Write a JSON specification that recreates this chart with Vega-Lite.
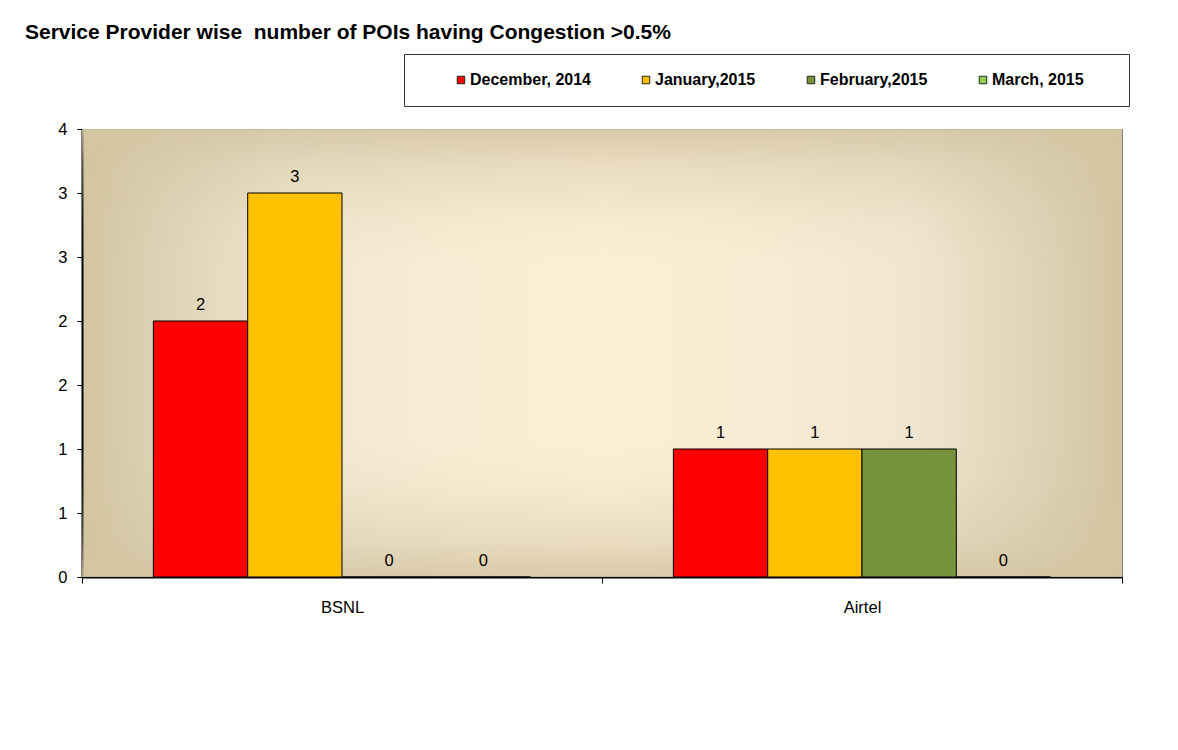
{
  "$schema": "https://vega.github.io/schema/vega-lite/v6.json",
  "width": 1040,
  "height": 448,
  "autosize": {"type": "none"},
  "padding": {"left": 82, "top": 129, "right": 56, "bottom": 173},
  "background": "white",
  "title": {
    "text": "Service Provider wise \u00a0number of POIs having Congestion >0.5%",
    "anchor": "start",
    "frame": "group",
    "orient": "top",
    "dx": -57,
    "offset": 11,
    "font": "Liberation Sans",
    "fontSize": 21,
    "fontWeight": "bold",
    "color": "black"
  },
  "data": {
    "values": [
      {"provider": "BSNL", "month": "December, 2014", "value": 2},
      {"provider": "BSNL", "month": "January,2015", "value": 3},
      {"provider": "BSNL", "month": "February,2015", "value": 0},
      {"provider": "BSNL", "month": "March, 2015", "value": 0},
      {"provider": "Airtel", "month": "December, 2014", "value": 1},
      {"provider": "Airtel", "month": "January,2015", "value": 1},
      {"provider": "Airtel", "month": "February,2015", "value": 1},
      {"provider": "Airtel", "month": "March, 2015", "value": 0}
    ]
  },
  "layer": [
    {
      "data": {"values": [{}]},
      "mark": {
        "type": "rect",
        "fill": {
          "gradient": "linear",
          "x1": 0, "y1": 0, "x2": 0, "y2": 1,
          "stops": [
            {"offset": 0, "color": "rgba(211,197,161,0.85)"},
            {"offset": 0.08, "color": "rgba(211,197,161,0.45)"},
            {"offset": 0.2, "color": "rgba(211,197,161,0.12)"},
            {"offset": 0.3, "color": "rgba(211,197,161,0)"},
            {"offset": 0.7, "color": "rgba(211,197,161,0)"},
            {"offset": 0.8, "color": "rgba(211,197,161,0.12)"},
            {"offset": 0.92, "color": "rgba(211,197,161,0.45)"},
            {"offset": 1, "color": "rgba(211,197,161,0.85)"}
          ]
        }
      },
      "encoding": {}
    },
    {
      "mark": {"type": "bar", "stroke": "black", "strokeWidth": 1},
      "encoding": {
        "x": {
          "field": "provider",
          "type": "nominal",
          "sort": ["BSNL", "Airtel"],
          "title": null,
          "scale": {"paddingInner": 0, "paddingOuter": 0},
          "axis": {
            "tickBand": "extent",
            "labelAngle": 0,
            "domainColor": "black",
            "domainWidth": 2,
            "tickColor": "black",
            "tickWidth": 1,
            "tickSize": 6,
            "labelPadding": 16,
            "labelFont": "Liberation Sans",
            "labelFontSize": 16.5,
            "labelColor": "black",
            "grid": false
          }
        },
        "xOffset": {
          "field": "month",
          "type": "nominal",
          "sort": ["December, 2014", "January,2015", "February,2015", "March, 2015"],
          "scale": {"paddingInner": 0, "paddingOuter": 0.757}
        },
        "y": {
          "field": "value",
          "type": "quantitative",
          "title": null,
          "scale": {"domain": [0, 3.5], "nice": false},
          "axis": {
            "values": [0, 0.5, 1, 1.5, 2, 2.5, 3, 3.5],
            "labelExpr": "'' + round(datum.value)",
            "labelOverlap": false,
            "grid": false,
            "domainColor": "black",
            "domainWidth": 2,
            "tickColor": "black",
            "tickWidth": 1,
            "tickSize": 5,
            "labelPadding": 10,
            "labelFont": "Liberation Sans",
            "labelFontSize": 16.5,
            "labelColor": "black"
          }
        },
        "color": {
          "field": "month",
          "type": "nominal",
          "scale": {
            "domain": ["December, 2014", "January,2015", "February,2015", "March, 2015"],
            "range": ["#FF0000", "#FFC000", "#77933C", "#92D050"]
          },
          "legend": {
            "orient": "none",
            "legendX": 322,
            "legendY": -75,
            "direction": "horizontal",
            "columns": 4,
            "title": "\u00a0",
            "titleOrient": "left",
            "titlePadding": 31,
            "titleFontSize": 15,
            "padding": 18,
            "strokeColor": "#333333",
            "fillColor": "white",
            "symbolType": "square",
            "symbolSize": 56,
            "symbolStrokeColor": "#222222",
            "symbolStrokeWidth": 1,
            "symbolOpacity": 1,
            "labelFont": "Liberation Sans",
            "labelFontSize": 16,
            "labelFontWeight": "bold",
            "labelColor": "black",
            "labelOffset": 1,
            "labelLimit": 300,
            "columnPadding": 47,
            "labelExpr": "indexof(datum.label, 'March') >= 0 ? datum.label + '\u00a0\u00a0\u00a0\u00a0\u00a0\u00a0\u200b' : datum.label"
          }
        }
      }
    },
    {
      "mark": {
        "type": "text",
        "dy": -11,
        "baseline": "alphabetic",
        "align": "center",
        "font": "Liberation Sans",
        "fontSize": 16.5,
        "color": "black"
      },
      "encoding": {
        "x": {"field": "provider", "type": "nominal", "sort": ["BSNL", "Airtel"]},
        "xOffset": {
          "field": "month",
          "type": "nominal",
          "sort": ["December, 2014", "January,2015", "February,2015", "March, 2015"]
        },
        "y": {"field": "value", "type": "quantitative"},
        "text": {"field": "value", "type": "quantitative"}
      }
    }
  ],
  "config": {
    "view": {
      "fill": {
        "gradient": "linear",
        "x1": 0, "y1": 0, "x2": 1, "y2": 0,
        "stops": [
          {"offset": 0, "color": "#D3C5A1"},
          {"offset": 0.08, "color": "#DED3B5"},
          {"offset": 0.2, "color": "#F0E6D0"},
          {"offset": 0.35, "color": "#F8ECD4"},
          {"offset": 0.5, "color": "#FDEFD5"},
          {"offset": 0.65, "color": "#F8ECD4"},
          {"offset": 0.8, "color": "#F0E6D0"},
          {"offset": 0.92, "color": "#DED3B5"},
          {"offset": 1, "color": "#D3C5A1"}
        ]
      },
      "stroke": "#808080",
      "strokeWidth": 1
    }
  }
}
